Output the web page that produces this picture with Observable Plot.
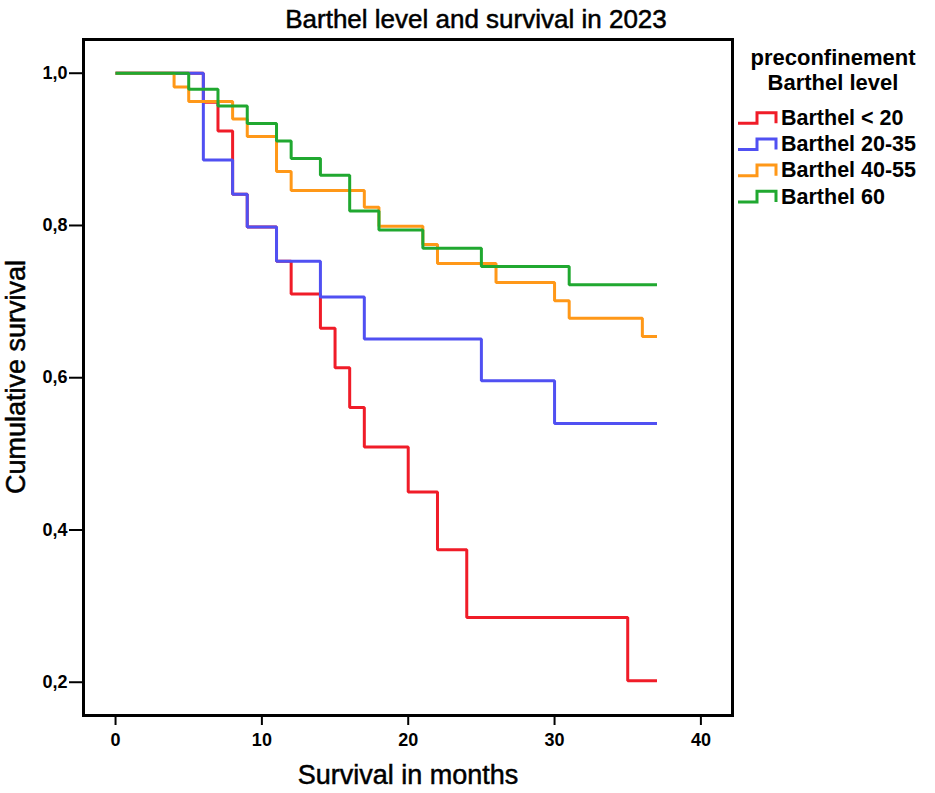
<!DOCTYPE html>
<html>
<head>
<meta charset="utf-8">
<script src="https://cdn.jsdelivr.net/npm/d3@7"></script>
<script src="https://cdn.jsdelivr.net/npm/@observablehq/plot@0.6"></script>
<style>
  body { margin: 0; background: #fff; }
  #chart { width: 935px; height: 793px; }
</style>
</head>
<body>
<div id="chart"></div>
<script>
// ---- texts ----
const chartTitle = "Barthel level and survival in 2023";
const xLabel = "Survival in months";
const yLabel = "Cumulative survival";
const legendTitle = ["preconfinement", "Barthel level"];

// ---- categories & colours ----
const groups = ["Barthel < 20", "Barthel 20-35", "Barthel 40-55", "Barthel 60"];
const groupColors = ["#f01c28", "#5050f2", "#ff9818", "#20a830"];

// ---- Kaplan-Meier steps (event month, survival after the step) ----
const endMonth = 37;
const redTimes    = [6, 7, 8, 9, 11, 12, 14, 15, 16, 17, 20, 22, 24, 35];
const redSurv     = [0.962, 0.924, 0.841, 0.798, 0.753, 0.710, 0.665, 0.613, 0.561, 0.509, 0.450, 0.374, 0.285, 0.202];
const blueTimes   = [6, 8, 9, 11, 14, 17, 25, 30];
const blueSurv    = [0.886, 0.841, 0.798, 0.753, 0.706, 0.651, 0.596, 0.540];
const orangeTimes = [4, 5, 8, 9, 11, 12, 17, 18, 21, 22, 26, 30, 31, 36];
const orangeSurv  = [0.982, 0.963, 0.940, 0.917, 0.871, 0.846, 0.824, 0.799, 0.775, 0.750, 0.725, 0.701, 0.678, 0.654];
const greenTimes  = [5, 7, 9, 11, 12, 14, 16, 18, 21, 25, 31];
const greenSurv   = [0.979, 0.957, 0.934, 0.911, 0.888, 0.866, 0.819, 0.794, 0.770, 0.746, 0.722];

// ---- ticks ----
const xTicks = [0, 10, 20, 30, 40];
const yTicks = [0.2, 0.4, 0.6, 0.8, 1.0];

// build table
const seriesTimes = [redTimes, blueTimes, orangeTimes, greenTimes];
const seriesSurv = [redSurv, blueSurv, orangeSurv, greenSurv];
const rows = [];
groups.forEach((g, i) => {
  rows.push({g, t: 0, s: 1});
  seriesTimes[i].forEach((t, j) => rows.push({g, t, s: seriesSurv[i][j]}));
  rows.push({g, t: endMonth, s: seriesSurv[i][seriesSurv[i].length - 1]});
});

const font = "'Liberation Sans', Arial, sans-serif";

const plot = Plot.plot({
  width: 935,
  height: 793,
  marginLeft: 83,
  marginRight: 203,
  marginTop: 39,
  marginBottom: 78,
  x: {domain: [-2.19, 42.16]},
  y: {domain: [0.1563, 1.0443]},
  color: {domain: groups, range: groupColors},
  style: {fontFamily: font, background: "white", color: "black"},
  marks: [
    Plot.line(rows, {x: "t", y: "s", z: "g", stroke: "g", curve: "step-after", strokeWidth: 3, strokeLinejoin: "miter", strokeLinecap: "butt"}),
    Plot.frame({stroke: "black", strokeWidth: 3}),
    Plot.axisX({ticks: xTicks, tickSize: 10, tickPadding: 8, fontSize: 18, fontWeight: "bold", label: null, strokeWidth: 2, tickFormat: d => String(d)}),
    Plot.axisY({ticks: yTicks, tickSize: 14, tickPadding: 2, fontSize: 18, fontWeight: "bold", label: null, strokeWidth: 2,
      tickFormat: d => d.toFixed(1).replace(".", ",")})
  ]
});

const svg = d3.select(plot);

svg.append("text")
  .attr("x", 476).attr("y", 28)
  .attr("text-anchor", "middle")
  .attr("font-family", font).attr("font-size", 26)
  .attr("fill", "black").attr("stroke", "black").attr("stroke-width", 0.5)
  .text(chartTitle);

svg.append("text")
  .attr("x", 408).attr("y", 784)
  .attr("text-anchor", "middle")
  .attr("font-family", font).attr("font-size", 27)
  .attr("fill", "black").attr("stroke", "black").attr("stroke-width", 0.5)
  .text(xLabel);

svg.append("text")
  .attr("transform", "translate(25,377) rotate(-90)")
  .attr("text-anchor", "middle")
  .attr("font-family", font).attr("font-size", 27)
  .attr("fill", "black").attr("stroke", "black").attr("stroke-width", 0.5)
  .text(yLabel);

// legend
const lg = svg.append("g").attr("font-family", font).attr("fill", "black");
legendTitle.forEach((t, i) => {
  lg.append("text")
    .attr("x", 833).attr("y", 65 + i * 25)
    .attr("text-anchor", "middle")
    .attr("font-size", 22).attr("font-weight", "bold")
    .text(t);
});
groups.forEach((g, i) => {
  const base = 125 + i * 26.2;
  lg.append("path")
    .attr("d", `M738,${base - 1.7}H757V${base - 12.3}H776V${base - 1.7}`)
    .attr("fill", "none")
    .attr("stroke", groupColors[i])
    .attr("stroke-width", 3);
  lg.append("text")
    .attr("x", 781).attr("y", base)
    .attr("text-anchor", "start")
    .attr("font-size", 21.5).attr("font-weight", "bold")
    .text(g);
});

document.getElementById("chart").appendChild(plot);
</script>
</body>
</html>
